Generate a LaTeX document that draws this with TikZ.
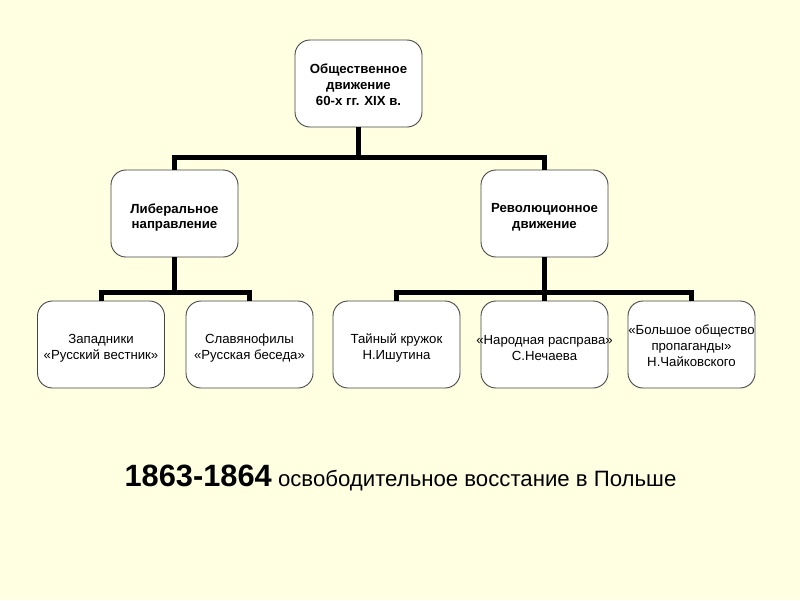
\documentclass[tikz,border=0pt]{standalone}
\usepackage{fontspec}
\setmainfont{Liberation Sans}
\definecolor{bg}{RGB}{255,255,225}
\definecolor{boxline}{RGB}{70,70,70}
\begin{document}
\begin{tikzpicture}[x=1pt,y=-1pt,
  box/.style={draw=boxline,line width=0.9pt,fill=white,rounded corners=15pt,
    minimum width=127pt,minimum height=87pt,inner sep=0pt},
  txt/.style={align=center,font=\fontsize{13.2}{15.8}\selectfont,inner sep=0pt},
  btxt/.style={txt,font=\fontsize{13.2}{15.8}\selectfont\bfseries},
  conn/.style={line width=5pt,line join=miter,black}]
\fill[bg] (0,0) rectangle (800,600);
\useasboundingbox (0,0) rectangle (800,600);
% boxes
\node[box] (top) at (358.5,83.5) {};
\node[box] (lib) at (174.5,213.5) {};
\node[box] (rev) at (544.5,213.5) {};
\node[box] (zap) at (101,344.5) {};
\node[box] (sla) at (249.5,344.5) {};
\node[box] (tai) at (396.5,344.5) {};
\node[box] (nar) at (544.5,344.5) {};
\node[box] (bol) at (691.5,344.5) {};
% texts
\node[btxt] (top-t) at ([yshift=-1.5pt]top.center) {Общественное\\движение\\ 60-х гг. XIX в.};
\node[btxt] (lib-t) at ([yshift=-4pt]lib.center) {Либеральное\\ направление};
\node[btxt] (rev-t) at ([yshift=-4pt]rev.center) {Революционное\\движение};
\node[txt] (zap-t) at ([yshift=-3.5pt]zap.center) {Западники\\«Русский вестник»};
\node[txt] (sla-t) at ([yshift=-3.5pt]sla.center) {Славянофилы\\«Русская беседа»};
\node[txt] (tai-t) at ([yshift=-3.5pt]tai.center) {Тайный кружок\\Н.Ишутина};
\node[txt] (nar-t) at ([yshift=-3.5pt]nar.center) {«Народная расправа»\\С.Нечаева};
\node[txt] (bol-t) at ([yshift=-1pt]bol.center) {«Большое общество\\пропаганды»\\Н.Чайковского};
% connectors
\coordinate (j1) at (358.5,157);
\coordinate (j2) at (174.5,292);
\coordinate (j3) at (544.5,292);
\draw[conn] (top.south) -- (j1) -| (lib.north);
\draw[conn] (j1) -| (rev.north);
\draw[conn] (lib.south) -- (j2) -| (zap.north);
\draw[conn] (j2) -| (sla.north);
\draw[conn] (rev.south) -- (j3) -| (tai.north);
\draw[conn] (j3) -| (bol.north);
\draw[conn] (j3) -- (nar.north);
% caption
\node[inner sep=0pt,anchor=base] (cap) at (400.5,486) {{\fontsize{30.8}{36}\selectfont\bfseries 1863-1864}{\fontsize{22.2}{26}\selectfont\ освободительное восстание в Польше}};
\end{tikzpicture}
\end{document}
